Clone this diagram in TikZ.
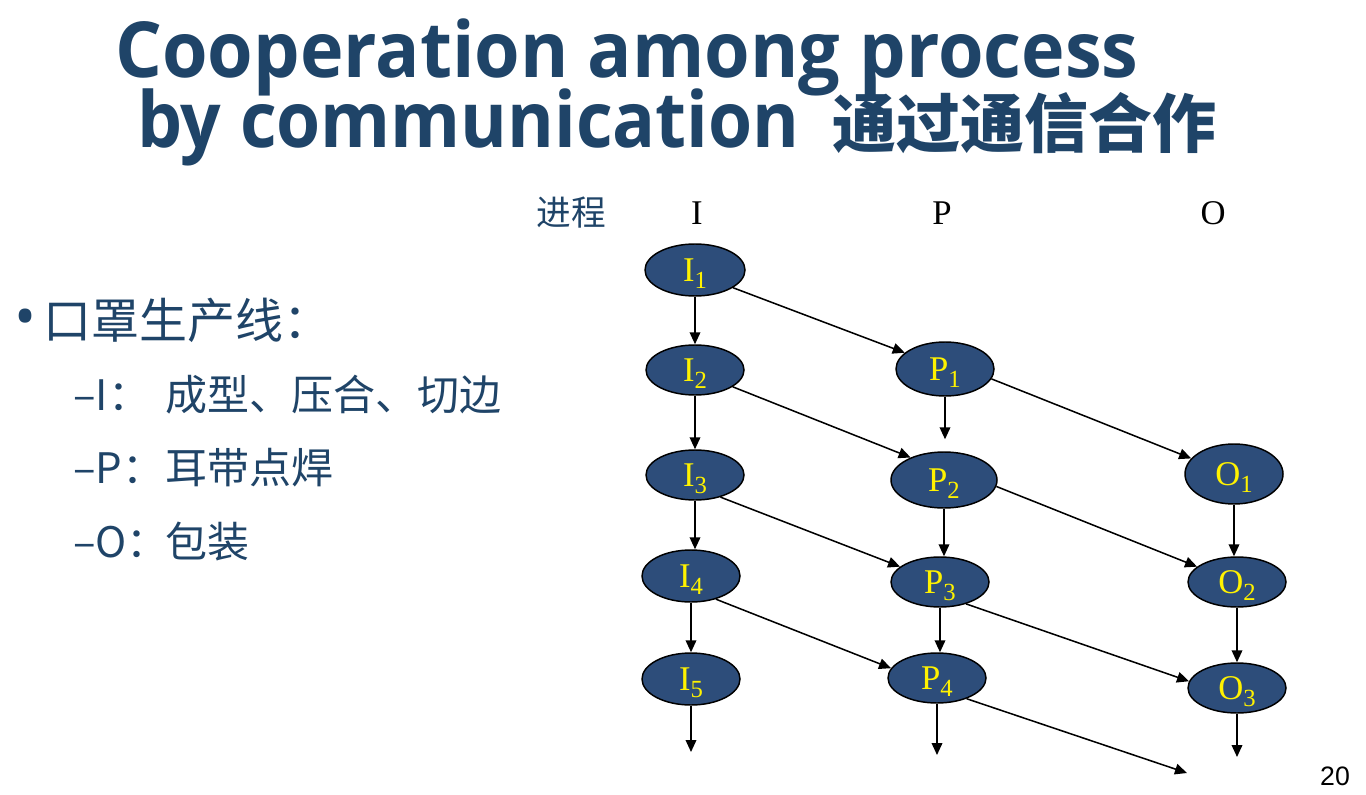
\documentclass[tikz,border=0pt]{standalone}
\usepackage{fontspec}
\setmainfont{Liberation Serif}
\newfontfamily\titlefont{Open Sans}
\newfontfamily\cjk{Noto Sans CJK SC}
\newfontfamily\pagefont{Liberation Sans}
\usetikzlibrary{shapes.geometric,arrows.meta}
\definecolor{navy}{HTML}{1F4468}
\definecolor{ellfill}{HTML}{2D4D7A}
\newcommand{\lsub}[1]{\raisebox{-0.22em}[0pt][0pt]{\fontsize{18.5}{18.5}\selectfont #1}}
\newcommand{\lead}[1]{\makebox[92\dimexpr 0.75pt\relax][l]{#1}}
\begin{document}
\begin{tikzpicture}[x=0.75pt,y=-0.75pt,
  proc/.style 2 args={ellipse, draw=black, line width=1.1pt, fill=ellfill, text=yellow,
    inner sep=0pt, minimum width=#1*0.75pt, minimum height=#2*0.75pt,
    font=\fontsize{26}{26}\selectfont},
  arr/.style={-{Triangle[length=9pt,width=8pt]}, line width=1.15pt},
  hdr/.style={anchor=base, inner sep=0pt, font=\fontsize{26}{26}\selectfont},
  bul/.style={anchor=base west, inner sep=0pt, text=navy},
  ttl/.style={anchor=base west, inner sep=0pt, text=navy}]
\fill[white] (0,0) rectangle (1366,795);
\useasboundingbox (0,0) rectangle (1366,795);

% title
\node[ttl, font=\titlefont\bfseries\fontsize{58}{58}\selectfont] (t1) at (115,78) {\scalebox{0.953}[1]{Cooperation among process}};
\node[ttl, font=\titlefont\bfseries\fontsize{58}{58}\selectfont] (t2) at (137,148) {\scalebox{0.922}[1]{by communication}};
\node[ttl, font=\cjk\bfseries\fontsize{48}{48}\selectfont] (t3) at (832,148) {通过通信合作};

% bullets
\node[bul, font=\titlefont\fontsize{44}{44}\selectfont] (b0) at (14,337) {•};
\node[bul, font=\cjk\fontsize{36}{36}\selectfont] (b1) at (43,338) {口罩生产线：};
\node[bul, font=\cjk\fontsize{31.5}{31.5}\selectfont] (b2) at (73,410) {\lead{–I：}成型、压合、切边};
\node[bul, font=\cjk\fontsize{31.5}{31.5}\selectfont] (b3) at (73,483) {\lead{–P：}耳带点焊};
\node[bul, font=\cjk\fontsize{31.5}{31.5}\selectfont] (b4) at (73,557) {\lead{–O：}包装};

% header
\node[hdr, text=navy, font=\cjk\fontsize{26}{26}\selectfont] (h0) at (571,225) {进程};
\node[hdr] (hI) at (697,224) {I};
\node[hdr] (hP) at (942,224) {P};
\node[hdr] (hO) at (1213,224) {O};

% process nodes
\node[proc={100}{52}] (I1) at (695,270) {I\lsub{1}};
\node[proc={98}{50}] (I2) at (695,370) {I\lsub{2}};
\node[proc={98}{50}] (I3) at (695,475) {I\lsub{3}};
\node[proc={98}{52}] (I4) at (691,576) {I\lsub{4}};
\node[proc={98}{52}] (I5) at (691,679) {I\lsub{5}};
\node[proc={98}{54}] (P1) at (945,369) {P\lsub{1}};
\node[proc={106}{56}] (P2) at (944,480) {P\lsub{2}};
\node[proc={98}{50}] (P3) at (940,582) {P\lsub{3}};
\node[proc={98}{50}] (P4) at (937,678) {P\lsub{4}};
\node[proc={98}{60}] (O1) at (1234,474) {O\lsub{1}};
\node[proc={98}{50}] (O2) at (1237,582) {O\lsub{2}};
\node[proc={98}{50}] (O3) at (1237,688) {O\lsub{3}};

\coordinate (Ie) at (691,752);
\coordinate (Pe) at (942,755);
\coordinate (Oe) at (1238,757);
\coordinate (Xe) at (1187,773);

% vertical arrows
\draw[arr] (I1.south) -- (I1.south |- I2.north);
\draw[arr] (I2.south) -- (I2.south |- I3.north);
\draw[arr] (I3.south) -- (I3.south |- I4.north);
\draw[arr] (I4.south) -- (I4.south |- I5.north);
\draw[arr] (I5.south) -- (I5.south |- Ie);
\draw[arr, shorten >=9pt] (P1.south) -- (P1.south |- P2.north);
\draw[arr] (P2.south) -- (P2.south |- P3.north);
\draw[arr] (P3.south) -- (P3.south |- P4.north);
\draw[arr] (P4.south) -- (P4.south |- Pe);
\draw[arr] (O1.south) -- (O1.south |- O2.north);
\draw[arr] (O2.south) -- (O2.south |- O3.north);
\draw[arr] (O3.south) -- (O3.south |- Oe);

% diagonal arrows
\draw[arr] (I1.-25) -- (P1.158);
\draw[arr] (I2.-24) -- (P2.146);
\draw[arr] (I3.-41) -- (P3.159);
\draw[arr] (I4.-43) -- (P4.168);
\draw[arr] (P1.-12) -- (O1.160);
\draw[arr] (P2.-7) -- (O2.159);
\draw[arr] (P3.-40) -- (O3.172);
\draw[arr] (P4.-35) -- (Xe);

% page number
\node[anchor=base, inner sep=0pt, font=\pagefont\fontsize{20}{20}\selectfont] (pg) at (1335,785) {20};
\end{tikzpicture}
\end{document}
